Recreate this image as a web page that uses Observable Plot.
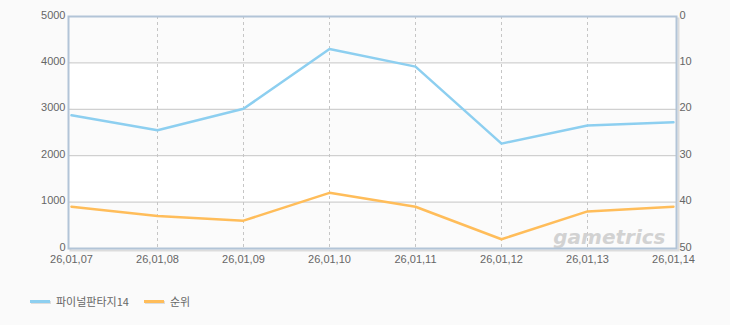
<!DOCTYPE html>
<html>
<head>
<meta charset="utf-8">
<script src="https://cdn.jsdelivr.net/npm/d3@7"></script>
<script src="https://cdn.jsdelivr.net/npm/@observablehq/plot@0.6"></script>
<style>
  html, body { margin: 0; padding: 0; background: #fafafa; }
  body { width: 730px; height: 325px; overflow: hidden; font-family: "Liberation Sans", "Noto Sans CJK KR", sans-serif; }
  #legend { display: flex; align-items: center; height: 20px; margin-top: 19px; padding-left: 30px; font-size: 11px; color: #666; font-family: "Noto Sans CJK KR", "Liberation Sans", sans-serif; }
  #legend .sw { display: inline-block; width: 20px; height: 3px; margin-right: 6px; box-shadow: 1px 1px 0 #ddd; }
  #legend .item { display: flex; align-items: center; margin-right: 15px; }
</style>
</head>
<body>
<div id="chart"></div>
<div id="legend"></div>
<script>
const dates = ["26,01,07", "26,01,08", "26,01,09", "26,01,10", "26,01,11", "26,01,12", "26,01,13", "26,01,14"];
const players = [2870, 2550, 3010, 4300, 3920, 2260, 2650, 2720];
const ranks = [41, 43, 44, 38, 41, 48, 42, 41];
const leftTicks = [0, 1000, 2000, 3000, 4000, 5000];
const rightTicks = [0, 10, 20, 30, 40, 50];
const seriesNames = ["파이널판타지14", "순위"];
const seriesColors = ["#8dcff0", "#ffbd5a"];

// rank axis 0..50 (top..bottom) mapped onto the 0..5000 left scale
const rankToLeft = r => 5000 - r * 100;

const playerData = dates.map((d, i) => ({date: d, value: players[i]}));
const rankData = dates.map((d, i) => ({date: d, value: rankToLeft(ranks[i])}));

const bands = leftTicks.slice(0, -1).map((t, i) => ({
  y1: t, y2: leftTicks[i + 1], fill: i % 2 === 0 ? "#fbfbfb" : "#ffffff"
}));

const chart = Plot.plot({
  width: 730,
  height: 272,
  marginLeft: 68,
  marginRight: 54,
  marginTop: 16,
  marginBottom: 24,
  style: {background: "transparent", fontFamily: "'Liberation Sans', 'DejaVu Sans', sans-serif", fontSize: "11px", color: "#666"},
  x: {type: "point", domain: dates, padding: 0, label: null},
  y: {domain: [0, 5000], label: null},
  marks: [
    Plot.frame({stroke: "#dcdcdc", strokeWidth: 2, dx: 2, dy: 2}),
    Plot.rect(bands, {y1: "y1", y2: "y2", fill: "fill"}),
    Plot.gridY(leftTicks.slice(1, -1), {stroke: "#c6c6c6", strokeOpacity: 1}),
    Plot.gridX(dates.slice(1, -1), {stroke: "#c6c6c6", strokeOpacity: 1, strokeDasharray: "3,3"}),
    Plot.text(["gametrics"], {frameAnchor: "bottom-right", dx: -11, dy: -5, fontSize: 20, fontWeight: "bold", fontStyle: "italic", fill: "#d2d2d2", textAnchor: "end", fontFamily: "'DejaVu Sans', sans-serif"}),
    Plot.frame({stroke: "#b2c4d7", strokeWidth: 2}),
    Plot.line(playerData, {x: "date", y: "value", stroke: seriesColors[0], strokeWidth: 2.5}),
    Plot.line(rankData, {x: "date", y: "value", stroke: seriesColors[1], strokeWidth: 2.5}),
    Plot.axisY(leftTicks, {anchor: "left", tickSize: 0, tickPadding: 3, dy: -1.5, fill: "#666", label: null, tickFormat: v => String(v)}),
    Plot.axisY(rightTicks.map(rankToLeft), {anchor: "right", tickSize: 0, tickPadding: 3, dy: -1.5, fill: "#666", label: null, tickFormat: v => String((5000 - v) / 100)}),
    Plot.axisX(dates, {tickSize: 0, tickPadding: 7, fill: "#666", label: null})
  ]
});
document.getElementById("chart").append(chart);

const legend = document.getElementById("legend");
seriesNames.forEach((name, i) => {
  const item = document.createElement("span");
  item.className = "item";
  const sw = document.createElement("span");
  sw.className = "sw";
  sw.style.background = seriesColors[i];
  item.append(sw, document.createTextNode(name));
  legend.append(item);
});
</script>
</body>
</html>
